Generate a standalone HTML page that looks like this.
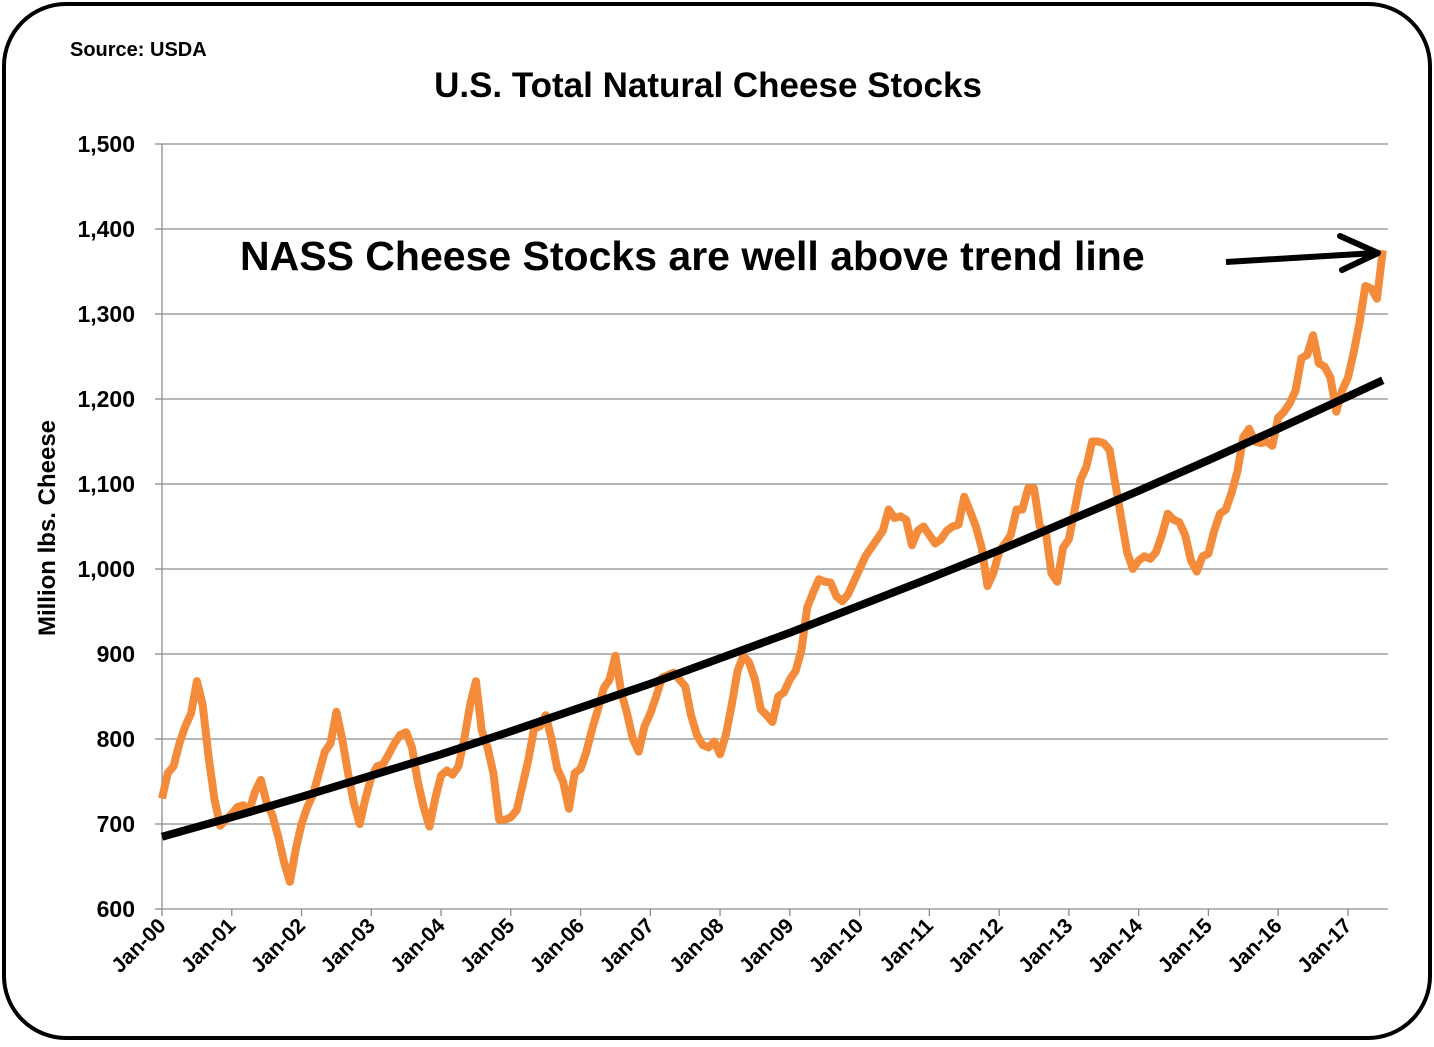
<!DOCTYPE html>
<html><head><meta charset="utf-8"><style>
html,body{margin:0;padding:0;background:#fff}
body{width:1434px;height:1042px;overflow:hidden;font-family:"Liberation Sans",sans-serif}
</style></head><body>
<svg id="chart" width="1434" height="1042" viewBox="0 0 1434 1042">
<rect x="4" y="4" width="1426" height="1034" rx="62" ry="62" fill="#fff" stroke="#000" stroke-width="4"/>
<text x="70" y="56" font-size="20" font-weight="bold">Source: USDA</text>
<text x="708" y="97" font-size="35" font-weight="bold" text-anchor="middle">U.S. Total Natural Cheese Stocks</text>
<text x="55" y="528" font-size="24" font-weight="bold" text-anchor="middle" transform="rotate(-90 55 528)">Million lbs. Cheese</text>
<g id="grid"></g><g id="yticks"></g><g id="xticks"></g>
<g id="series"></g>
<text x="240" y="270" font-size="41" font-weight="bold">NASS Cheese Stocks are well above trend line</text>
<g>
<line x1="1226" y1="262" x2="1376" y2="253" stroke="#000" stroke-width="6"/>
<polyline points="1340,236 1378,253 1342,270" fill="none" stroke="#000" stroke-width="6" stroke-linecap="round" stroke-linejoin="round"/>
</g>
</svg>
<script>
const yTicks=[600,700,800,900,1000,1100,1200,1300,1400,1500];
const xLabels=["Jan-00","Jan-01","Jan-02","Jan-03","Jan-04","Jan-05","Jan-06","Jan-07","Jan-08","Jan-09","Jan-10","Jan-11","Jan-12","Jan-13","Jan-14","Jan-15","Jan-16","Jan-17"];
const stocks=[
730,760,768,795,815,830,868,840,780,730,698,705,
712,720,722,715,738,752,725,710,685,655,632,670,
700,720,735,760,785,795,832,800,760,725,700,730,
755,768,770,782,795,805,808,790,750,720,697,730,
757,763,758,768,800,840,868,810,790,760,705,705,
708,716,745,775,812,815,828,800,765,750,718,760,
765,785,812,835,860,870,898,855,830,800,785,815,
830,850,872,875,878,870,862,828,805,793,790,797,
782,805,840,880,898,890,870,835,828,820,850,855,
870,880,905,955,972,988,985,984,968,962,970,985,
1000,1015,1025,1035,1045,1070,1060,1062,1058,1028,1045,1050,
1040,1030,1035,1045,1050,1052,1085,1068,1050,1025,980,995,
1020,1030,1040,1070,1070,1095,1095,1050,1045,995,985,1025,
1035,1070,1105,1120,1150,1150,1148,1140,1100,1060,1020,1000,
1010,1015,1012,1020,1040,1065,1058,1055,1040,1010,997,1015,
1018,1045,1065,1070,1090,1115,1155,1165,1150,1148,1150,1145,
1178,1185,1195,1210,1248,1252,1275,1242,1238,1225,1185,1210,
1225,1255,1290,1333,1330,1318,1375];
// trend line values at each January (month index = 12*k), plus final month
const trendMonths=[0,12,24,36,48,60,72,84,96,108,120,132,144,156,168,180,192,204,210];
const trendValues=[685,708,732,757,782,809,837,865,895,925,957,989,1022,1057,1092,1128,1165,1203,1222];
const NS="http://www.w3.org/2000/svg";
const X0=162,X1=1388,Y0=909,Y1=144,monthPx=69.76/12;
const xs=i=>X0+i*monthPx;
const ys=v=>Y0-(v-600)/900*(Y0-Y1);
function mk(tag,attrs,parent){const e=document.createElementNS(NS,tag);for(const k in attrs)e.setAttribute(k,attrs[k]);document.getElementById(parent).appendChild(e);return e;}
yTicks.forEach(v=>{
  const y=ys(v);
  if(v>600){const g=mk('line',{x1:X0,x2:X1,y1:y,y2:y,stroke:'#8c8c8c','stroke-width':1.3},'grid');
  
  }
  const tk=mk('line',{x1:X0-7,x2:X0,y1:y,y2:y,stroke:'#8c8c8c','stroke-width':1.3},'yticks');
  
  
  const t=mk('text',{x:135,y:y+8,'font-size':23,'font-weight':'bold','text-anchor':'end'},'yticks');
  t.textContent=v.toLocaleString('en-US');
  
  
});
const ax=mk('line',{x1:X0,x2:X0,y1:Y1,y2:Y0,stroke:'#8c8c8c','stroke-width':1.3},'grid');


const bx=mk('line',{x1:X0,x2:X1,y1:Y0,y2:Y0,stroke:'#8c8c8c','stroke-width':1.3},'grid');


xLabels.forEach((l,k)=>{
  const x=xs(k*12);
  const tk=mk('line',{x1:x,x2:x,y1:Y0,y2:Y0+7,stroke:'#8c8c8c','stroke-width':1.3},'xticks');
  
  
  const t=mk('text',{x:x+5,y:Y0+18,'font-size':21,'font-weight':'bold','text-anchor':'end',transform:`rotate(-45 ${x+5} ${Y0+18})`},'xticks');
  t.textContent=l;
  
  
});
const sp=mk('polyline',{points:stocks.map((v,i)=>xs(i)+','+ys(v)).join(' '),fill:'none',stroke:'#F38B3A','stroke-width':8,'stroke-linejoin':'round'},'series');


const tl=mk('polyline',{points:trendValues.map((v,i)=>xs(trendMonths[i])+','+ys(v)).join(' '),fill:'none',stroke:'#000','stroke-width':8,'stroke-linejoin':'round'},'series');


</script>
</body></html>
